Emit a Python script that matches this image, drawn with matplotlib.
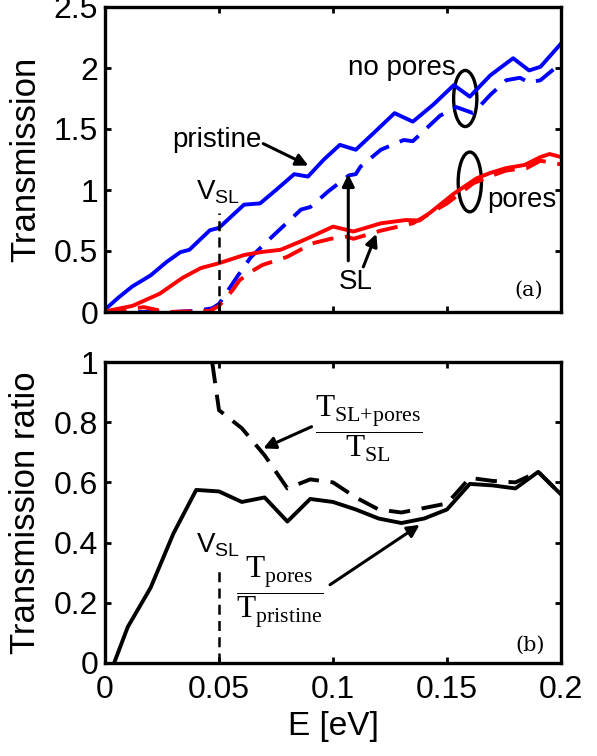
import matplotlib
matplotlib.use("Agg")
from matplotlib import pyplot as plt
from matplotlib.patches import Ellipse

plt.rcParams['font.family'] = ['Liberation Sans', 'DejaVu Sans']
plt.rcParams['mathtext.fontset'] = 'custom'
plt.rcParams['mathtext.rm'] = 'Liberation Serif'
plt.rcParams['mathtext.sf'] = 'Liberation Sans'

# ---- panel (a): transmission vs energy ----
E_pristine = [0.0, 0.006, 0.012, 0.020, 0.027, 0.033, 0.037, 0.046, 0.050, 0.061, 0.068,
              0.075, 0.083, 0.089, 0.096, 0.103, 0.110, 0.118, 0.127, 0.135, 0.144,
              0.153, 0.160, 0.169, 0.179, 0.186, 0.191, 0.200]
T_pristine = [0.02, 0.12, 0.21, 0.30, 0.41, 0.49, 0.51, 0.67, 0.69, 0.88, 0.89,
              1.00, 1.13, 1.11, 1.25, 1.37, 1.33, 1.47, 1.63, 1.56, 1.70,
              1.86, 1.765, 1.94, 2.08, 1.98, 2.01, 2.20]

E_sl = [0.0, 0.010, 0.020, 0.030, 0.040, 0.047, 0.050, 0.058, 0.064, 0.074, 0.086,
        0.090, 0.098, 0.107, 0.110, 0.112, 0.121, 0.131, 0.135, 0.147, 0.154,
        0.1615, 0.169, 0.176, 0.182, 0.186, 0.191, 0.200]
T_sl = [0.0, 0.0, 0.0, 0.0, 0.01, 0.03, 0.066, 0.29, 0.45, 0.63, 0.84,
        0.86, 0.99, 1.12, 1.13, 1.19, 1.33, 1.41, 1.40, 1.61, 1.68,
        1.63, 1.78, 1.90, 1.92, 1.88, 1.90, 2.04]

E_pores = [0.0, 0.012, 0.024, 0.034, 0.042, 0.050, 0.061, 0.068, 0.077, 0.086, 0.092,
           0.100, 0.109, 0.121, 0.132, 0.138, 0.143, 0.153, 0.163, 0.169, 0.176,
           0.184, 0.191, 0.195, 0.200]
T_pores = [0.005, 0.05, 0.15, 0.28, 0.36, 0.40, 0.467, 0.49, 0.51, 0.58, 0.63,
           0.70, 0.66, 0.727, 0.754, 0.75, 0.82, 0.97, 1.096, 1.14, 1.18,
           1.205, 1.27, 1.295, 1.27]

E_sl_pores = [0.0, 0.017, 0.027, 0.046, 0.050, 0.056, 0.059, 0.064, 0.069, 0.078, 0.080,
              0.091, 0.099, 0.106, 0.109, 0.121, 0.135, 0.150, 0.1615, 0.170, 0.176,
              0.185, 0.191, 0.200]
T_sl_pores = [0.0, 0.04, 0.0, 0.01, 0.05, 0.18, 0.26, 0.33, 0.385, 0.44, 0.453,
              0.563, 0.60, 0.617, 0.60, 0.667, 0.727, 0.89, 1.055, 1.12, 1.16,
              1.18, 1.24, 1.21]

# ---- panel (b): transmission ratios ----
E_ratio = [0.004, 0.01, 0.02, 0.03, 0.04, 0.05, 0.06, 0.07, 0.08, 0.09, 0.10,
           0.11, 0.12, 0.13, 0.14, 0.15, 0.16, 0.17, 0.18, 0.19, 0.20]
R_pores = [0.0, 0.12, 0.25, 0.43, 0.575, 0.57, 0.535, 0.55, 0.47, 0.545, 0.535,
           0.51, 0.48, 0.465, 0.48, 0.51, 0.595, 0.59, 0.58, 0.635, 0.56]

E_ratio_sl = [0.047, 0.05, 0.06, 0.07, 0.08, 0.09, 0.10, 0.11, 0.12, 0.13, 0.14,
              0.15, 0.16, 0.17, 0.18, 0.19, 0.20]
R_sl_pores = [1.0, 0.84, 0.78, 0.69, 0.58, 0.61, 0.60, 0.55, 0.51, 0.50, 0.515,
              0.53, 0.615, 0.605, 0.60, 0.635, 0.56]

V_SL = 0.05

BLUE = '#0000ff'
RED = '#ff0000'
DASH = (0, (5.5, 3))
LW = 2.8

fig = plt.figure(figsize=(5.97, 7.56), dpi=100)
ax1 = fig.add_axes([105 / 597, 1 - 312 / 756, 456 / 597, 305 / 756])
ax2 = fig.add_axes([105 / 597, 1 - 663 / 756, 456 / 597, 301 / 756])


def style(ax):
    for s in ax.spines.values():
        s.set_linewidth(2.4)
    ax.tick_params(direction='in', top=True, right=True, length=4.5, width=2,
                   labelsize=23)
    ax.tick_params(axis='y', pad=5)
    ax.tick_params(axis='x', pad=9)
    ax.set_xlim(0, 0.2)
    ax.set_xticks([0, 0.05, 0.1, 0.15, 0.2])


# panel (a)
ax1.plot(E_sl, T_sl, color=BLUE, lw=LW, ls=DASH)
ax1.plot(E_sl_pores, T_sl_pores, color=RED, lw=LW, ls=DASH)
ax1.plot(E_pristine, T_pristine, color=BLUE, lw=LW)
ax1.plot(E_pores, T_pores, color=RED, lw=LW)
ax1.plot([V_SL, V_SL], [0, 0.81], color='k', lw=1.8, ls=(0, (4, 2.5)))
style(ax1)
ax1.set_ylim(0, 2.5)
ax1.set_yticks([0, 0.5, 1, 1.5, 2, 2.5])
ax1.set_yticklabels(['0', '0.5', '1', '1.5', '2', '2.5'])
ax1.set_xticklabels([])
ax1.set_ylabel('Transmission', fontsize=25)
ax1.yaxis.set_label_coords(-0.138, 0.5)

ax1.text(0.0497, 0.98, r'V$_{\mathsf{SL}}$', fontsize=20, ha='center', va='center')
ax1.text(0.049, 1.41, 'pristine', fontsize=20, ha='center', va='center')
ax1.text(0.130, 2.0, 'no pores', fontsize=20, ha='center', va='center')
ax1.text(0.1827, 0.915, 'pores', fontsize=20, ha='center', va='center')
ax1.text(0.110, 0.246, 'SL', fontsize=20, ha='center', va='center')
ax1.text(0.1857, 0.178, '(a)', fontsize=15, ha='center', va='center',
         family='DejaVu Serif')

arrow = dict(arrowstyle='-|>', lw=2.2, color='k', mutation_scale=18,
             shrinkA=0, shrinkB=0)
ax1.annotate('', xy=(0.0892, 1.20), xytext=(0.0694, 1.38), arrowprops=arrow)
ax1.annotate('', xy=(0.1067, 1.13), xytext=(0.1067, 0.42), arrowprops=arrow)
ax1.annotate('', xy=(0.119, 0.64), xytext=(0.1133, 0.37), arrowprops=arrow)
ax1.add_patch(Ellipse((0.158, 1.75), 0.0102, 0.46, fill=False, ec='k', lw=2.4))
ax1.add_patch(Ellipse((0.160, 1.066), 0.0102, 0.49, fill=False, ec='k', lw=2.4))

# panel (b)
ax2.plot(E_ratio_sl, R_sl_pores, color='k', lw=LW, ls=DASH)
ax2.plot(E_ratio, R_pores, color='k', lw=LW)
ax2.plot([V_SL, V_SL], [0, 0.32], color='k', lw=1.8, ls=(0, (4, 2.5)))
style(ax2)
ax2.set_ylim(0, 1)
ax2.set_yticks([0, 0.2, 0.4, 0.6, 0.8, 1])
ax2.set_yticklabels(['0', '0.2', '0.4', '0.6', '0.8', '1'])
ax2.set_xticklabels(['0', '0.05', '0.1', '0.15', '0.2'])
ax2.set_xlabel('E [eV]', fontsize=24, labelpad=4)
ax2.set_ylabel('Transmission ratio', fontsize=25)
ax2.yaxis.set_label_coords(-0.138, 0.5)

ax2.text(0.0497, 0.392, r'V$_{\mathsf{SL}}$', fontsize=20, ha='center', va='center')
ax2.text(0.1155, 0.78, r'$\dfrac{\mathrm{T}_{\mathrm{SL{+}pores}}}{\mathrm{T}_{\mathrm{SL}}}$',
         fontsize=22.5, ha='center', va='center')
ax2.text(0.0768, 0.237, r'$\dfrac{\mathrm{T}_{\mathrm{pores}}}{\mathrm{T}_{\mathrm{pristine}}}$',
         fontsize=22.5, ha='center', va='center')
ax2.text(0.1864, 0.06, '(b)', fontsize=15, ha='center', va='center',
         family='DejaVu Serif')
ax2.annotate('', xy=(0.0694, 0.713), xytext=(0.0906, 0.785), arrowprops=arrow)
ax2.annotate('', xy=(0.138, 0.459), xytext=(0.0987, 0.26), arrowprops=arrow)

fig.savefig('out.png', dpi=100)
